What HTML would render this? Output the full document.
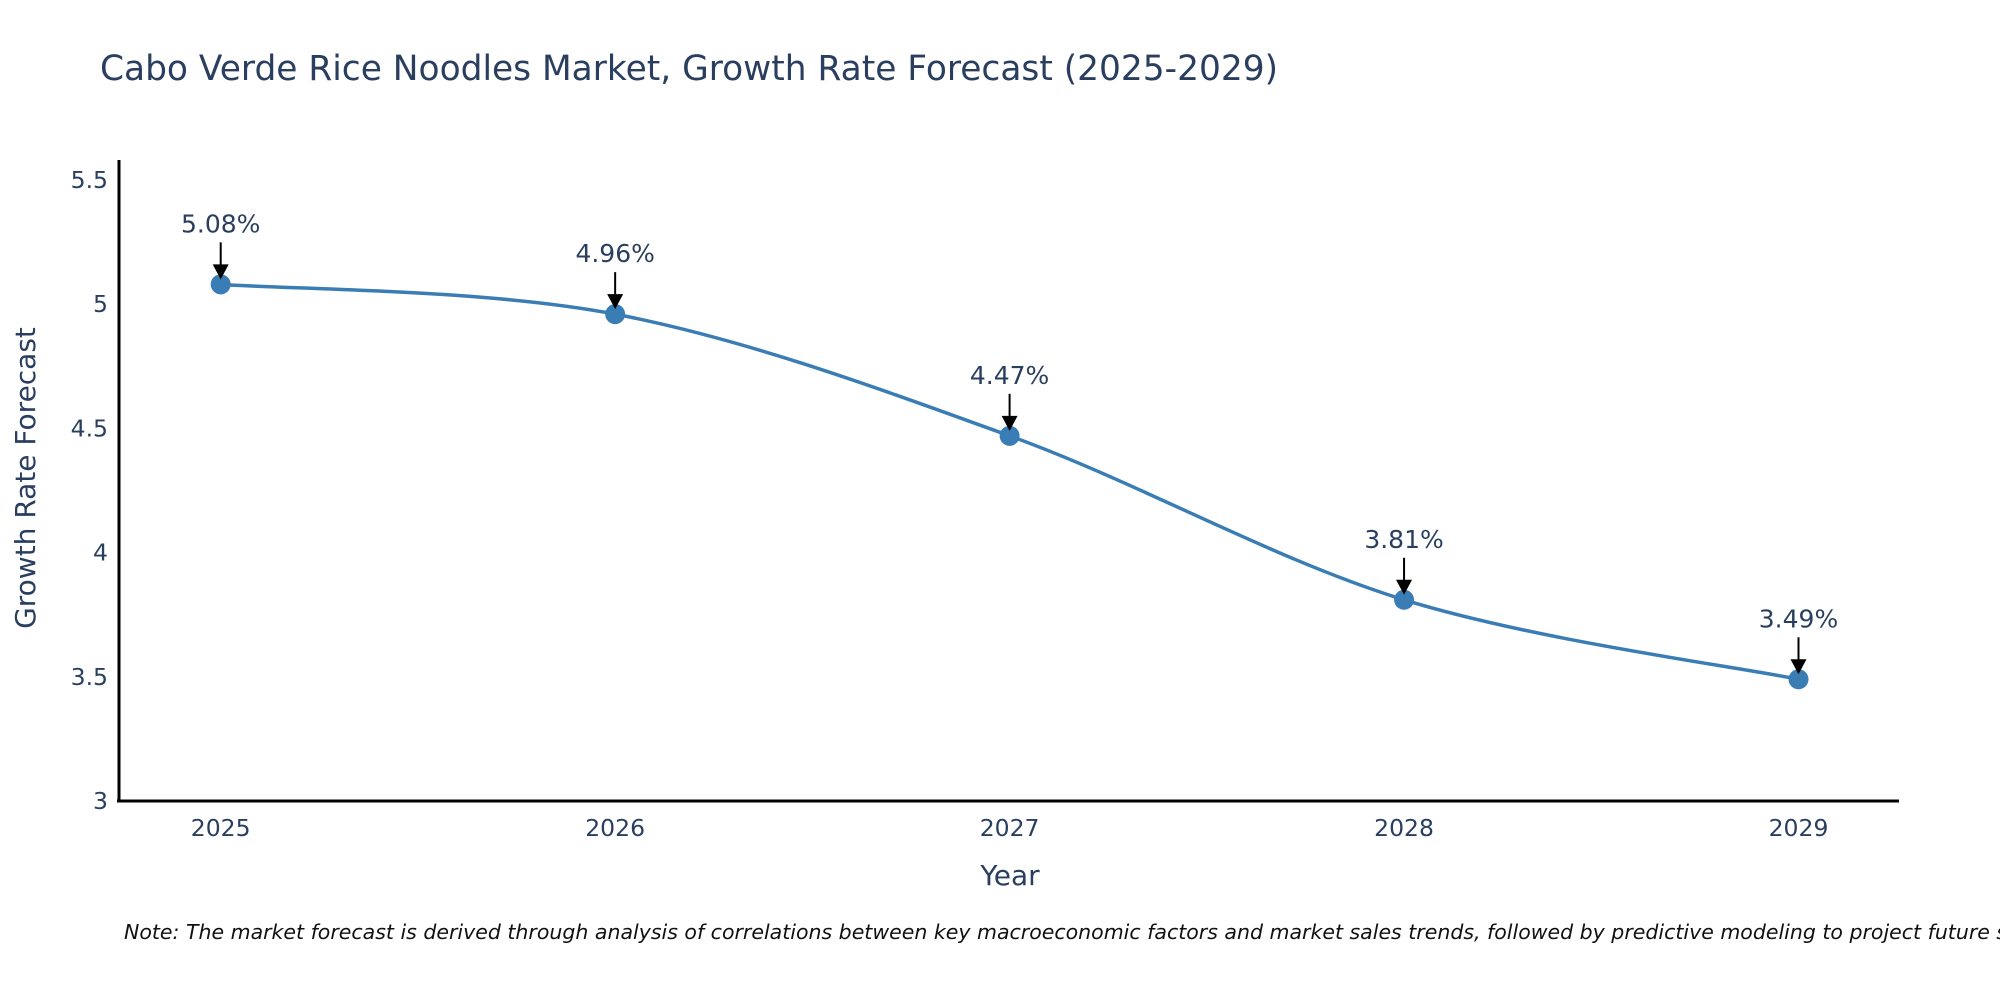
<!DOCTYPE html>
<html><head><meta charset="utf-8"><style>
body{margin:0;background:#fff;}
svg text{font-family:"DejaVu Sans","Liberation Sans",sans-serif;}
</style></head><body>
<svg id="chart" width="2000" height="1000" xmlns="http://www.w3.org/2000/svg">
<text x="100" y="80" font-size="34.4" fill="#2a3f5f">Cabo Verde Rice Noodles Market, Growth Rate Forecast (2025-2029)</text>
<g id="yticks"></g>
<g id="xticks"></g>
<line x1="119" y1="160" x2="119" y2="802" stroke="#000" stroke-width="3"/>
<line x1="117" y1="801" x2="1899" y2="801" stroke="#000" stroke-width="3"/>
<path id="line" fill="none" stroke="#3a7db5" stroke-width="3.5"/>
<g id="points"></g>
<g id="annots"></g>
<text x="1010" y="885" font-size="28" fill="#2a3f5f" text-anchor="middle">Year</text>
<text transform="translate(35,478) rotate(-90)" font-size="28" fill="#2a3f5f" text-anchor="middle">Growth Rate Forecast</text>
<text x="124" y="939" font-size="20.5" font-style="italic" fill="#111">Note: The market forecast is derived through analysis of correlations between key macroeconomic factors and market sales trends, followed by predictive modeling to project future sales.</text>
</svg>
<script>
const years = [2025, 2026, 2027, 2028, 2029];
const rates = [5.08, 4.96, 4.47, 3.81, 3.49];
const labels = ["5.08%", "4.96%", "4.47%", "3.81%", "3.49%"];
const yTicks = [3, 3.5, 4, 4.5, 5, 5.5];
const yTickLabels = ["3", "3.5", "4", "4.5", "5", "5.5"];

const NS = "http://www.w3.org/2000/svg";
const xScale = y => 220.7 + (y - 2025) * 394.45;
const yScale = v => 801 - (v - 3) * 248.4;
function mk(tag, attrs, parent){const e=document.createElementNS(NS,tag);for(const k in attrs)e.setAttribute(k,attrs[k]);parent.appendChild(e);return e;}

const yt = document.getElementById('yticks');
yTicks.forEach((t,i)=>{
  const e = mk('text',{x:108,y:yScale(t)+8,'font-size':23.5,fill:'#2a3f5f','text-anchor':'end'},yt);
  
  
  e.textContent = yTickLabels[i];
});
const xt = document.getElementById('xticks');
years.forEach(y=>{
  const e = mk('text',{x:xScale(y),y:836,'font-size':23.5,fill:'#2a3f5f','text-anchor':'middle'},xt);
  
  
  e.textContent = String(y);
});

const pts = years.map((y,i)=>[xScale(y), yScale(rates[i])]);
let d = `M${pts[0][0]},${pts[0][1]}`;
for(let i=0;i<pts.length-1;i++){
  const p0=pts[Math.max(i-1,0)],p1=pts[i],p2=pts[i+1],p3=pts[Math.min(i+2,pts.length-1)];
  const c1=[p1[0]+(p2[0]-p0[0])/6,p1[1]+(p2[1]-p0[1])/6];
  const c2=[p2[0]-(p3[0]-p1[0])/6,p2[1]-(p3[1]-p1[1])/6];
  d+=` C${c1[0]},${c1[1]} ${c2[0]},${c2[1]} ${p2[0]},${p2[1]}`;
}
document.getElementById('line').setAttribute('d', d);

const pg = document.getElementById('points');
const ag = document.getElementById('annots');
pts.forEach((p,i)=>{
  const c = mk('circle',{cx:p[0],cy:p[1],r:10,fill:'#3a7db5'},pg);
  
  
  const l = mk('line',{x1:p[0],y1:p[1]-42,x2:p[0],y2:p[1]-16,stroke:'#000','stroke-width':2},ag);
  
  
  const h = mk('polygon',{points:`${p[0]-8},${p[1]-20} ${p[0]+8},${p[1]-20} ${p[0]},${p[1]-5}`,fill:'#000'},ag);
  
  
  const t = mk('text',{x:p[0],y:p[1]-52,'font-size':25,fill:'#2a3f5f','text-anchor':'middle'},ag);
  
  
  t.textContent = labels[i];
});
</script>
</body></html>
